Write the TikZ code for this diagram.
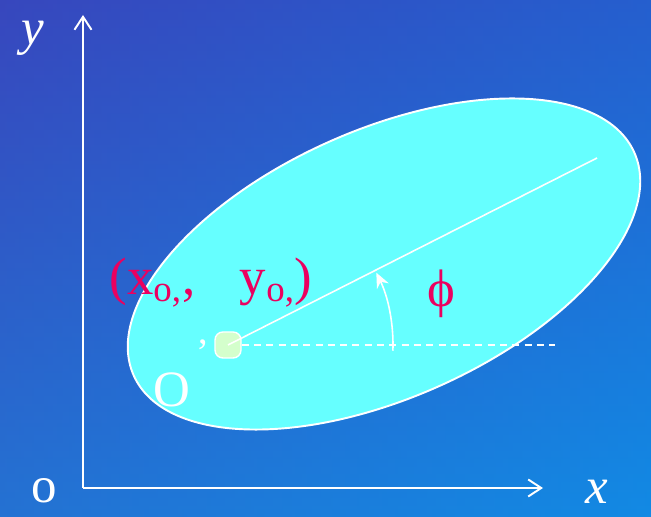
\documentclass[tikz,border=0pt]{standalone}
\usepackage{fontspec}
\setmainfont{Liberation Serif}
\usetikzlibrary{arrows.meta}
\definecolor{bgtop}{RGB}{48,72,195}
\definecolor{bgbot}{RGB}{18,138,228}
\definecolor{bgleft}{RGB}{70,70,180}
\definecolor{ellfill}{RGB}{102,255,255}
\definecolor{dotfill}{RGB}{212,255,204}
\definecolor{labred}{RGB}{235,0,95}
\tikzset{
  axis/.style={white,line width=1.1pt,-{Straight Barb[length=2.6mm,width=3.4mm,line width=1.1pt]}},
  biglab/.style={white,font=\fontsize{29}{31}\selectfont},
  redlab/.style={labred,font=\fontsize{30}{32}\selectfont}
}

\begin{document}
\begin{tikzpicture}[>=Stealth]
            \useasboundingbox (0,0) rectangle (13.02,10.34);
            \shade [top color=bgtop,bottom color=bgbot] (0,0) rectangle (13.02,10.34);
            \shade [left color=bgleft,right color=bgbot,opacity=0.35] (0,0) rectangle (13.02,10.34);
            % coordinates
            \coordinate (origin) at (1.66,0.58);
            \coordinate (xtip) at (10.86,0.58);
            \coordinate (ytip) at (1.66,10.04);
            \coordinate (majend) at (11.94,7.18);
            \coordinate (dashend) at (11.10,3.44);
            % ellipse
            \draw [white,line width=1.1pt,fill=ellfill,rotate around={24:(7.68,5.06)}] (7.68,5.06) ellipse [x radius=5.48,y radius=2.68];
            % axes
            \draw [axis] (origin) -- (xtip);
            \draw [axis] (origin) -- (ytip);
            % centre and angle
            \node (ctr) [draw=white,line width=0.8pt,fill=dotfill,rounded corners=4.5pt,minimum size=0.52cm,inner sep=0pt] at (4.56,3.44) {};
            \draw [white,line width=0.9pt] (ctr.center) -- (majend);
            \draw [white,line width=0.9pt,dash pattern=on 4pt off 3pt] (ctr.east) -- (dashend);
            \draw [white,line width=0.9pt,-{Stealth[length=3mm,width=2.6mm]}] ([shift={(-2:3.3)}]ctr.center) arc [start angle=-2,end angle=26,radius=3.3];
            % labels
            \node (ylab) [biglab,inner sep=0pt,font=\fontsize{29}{31}\selectfont\itshape] at (0.66,9.58) {y};
            \node (xlab) [biglab,font=\fontsize{29}{31}\selectfont\itshape] at (11.94,0.50) {x};
            \node (olab) [biglab] at (0.88,0.52) {o};
            \node (Olab) [biglab] at (3.44,2.54) {O};
            \node (prime) [white,font=\fontsize{22}{24}\selectfont] at (4.06,3.28) {'};
            \node (xylab) [redlab,anchor=base] at (4.22,4.44) {(x\textsubscript{o,}, \hspace{0.6em}y\textsubscript{o,})};
            \node (philab) [redlab] at (8.82,4.46) {ϕ};
        \end{tikzpicture}
\end{document}
